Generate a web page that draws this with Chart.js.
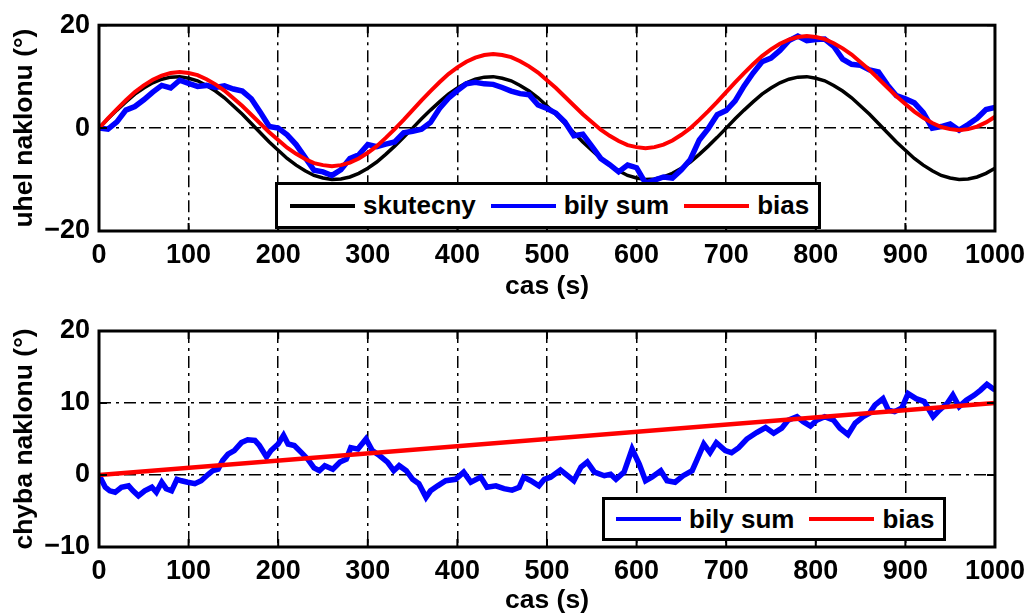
<!DOCTYPE html>
<html>
<head>
<meta charset="utf-8">
<script src="https://cdn.jsdelivr.net/npm/chart.js@4/dist/chart.umd.min.js"></script>
<style>
  body { margin: 0; background: #fff; }
  #wrap { position: relative; width: 1033px; height: 614px; overflow: hidden; }
  canvas { position: absolute; left: 0; }
  .legend { position: absolute; background: #fff; border: 3px solid #000; box-sizing: border-box; white-space: nowrap;
            display: flex; align-items: center; font: bold 26px "Liberation Sans", Arial, sans-serif; color: #000; }
  .legend .ln { display: inline-block; flex: none; width: 65px; height: 4px; margin-right: 8px; }
  .legend .tx { flex: none; margin-right: 15px; }
</style>
</head>
<body>
<div id="wrap">
  <canvas id="horni" style="top:0"></canvas>
  <canvas id="dolni" style="top:300px"></canvas>
  <div class="legend" style="left:275px; top:182px; width:546px; height:47px; padding-left:12px;">
    <span class="ln" style="background:#000"></span><span class="tx">skutecny</span>
    <span class="ln" style="background:#0000ff"></span><span class="tx">bily sum</span>
    <span class="ln" style="background:#ff0000"></span><span class="tx">bias</span>
  </div>
  <div class="legend" style="left:602px; top:497px; width:344px; height:44px; padding-left:11px;">
    <span class="ln" style="background:#0000ff"></span><span class="tx">bily sum</span>
    <span class="ln" style="background:#ff0000"></span><span class="tx">bias</span>
  </div>
</div>
<script>
// horni graf - krok 10 s
var cas = [0,10,20,30,40,50,60,70,80,90,100,110,120,130,140,150,160,170,180,190,
  200,210,220,230,240,250,260,270,280,290,300,310,320,330,340,350,360,370,380,390,
  400,410,420,430,440,450,460,470,480,490,500,510,520,530,540,550,560,570,580,590,
  600,610,620,630,640,650,660,670,680,690,700,710,720,730,740,750,760,770,780,790,
  800,810,820,830,840,850,860,870,880,890,900,910,920,930,940,950,960,970,980,990,1000];

var skutecny = [0,1.8,3.5,5.1,6.6,7.8,8.8,9.5,9.9,10.0,9.7,9.2,8.3,7.2,5.9,4.3,2.7,0.9,-0.9,-2.7,
  -4.3,-5.9,-7.2,-8.3,-9.2,-9.7,-10.0,-9.9,-9.5,-8.8,-7.8,-6.6,-5.1,-3.5,-1.8,0,1.8,3.5,5.1,6.6,
  7.8,8.8,9.5,9.9,10.0,9.7,9.2,8.3,7.2,5.9,4.3,2.7,0.9,-0.9,-2.7,-4.3,-5.9,-7.2,-8.3,-9.2,
  -9.7,-10.0,-9.9,-9.5,-8.8,-7.8,-6.6,-5.1,-3.5,-1.8,0,1.8,3.5,5.1,6.6,7.8,8.8,9.5,9.9,10.0,
  9.7,9.2,8.3,7.2,5.9,4.3,2.7,0.9,-0.9,-2.7,-4.3,-5.9,-7.2,-8.3,-9.2,-9.7,-10.0,-9.9,-9.5,-8.8,-7.8];

var bilySum = [0,-0.2,1.2,3.5,4.2,5.5,7.0,8.3,7.8,9.3,8.7,8.1,8.3,7.9,8.2,7.6,7.2,5.7,3.1,0.3,
  0.0,-1.3,-3.2,-5.7,-8.2,-8.5,-9.2,-8.1,-5.9,-5.2,-3.2,-3.6,-3.1,-2.7,-0.9,-0.6,-0.2,1.1,3.8,5.8,
  7.3,8.6,8.9,8.6,8.5,7.9,7.2,6.7,6.5,4.5,3.8,2.9,1.2,-1.5,-1.2,-3.5,-5.9,-7.1,-8.5,-7.2,
  -7.7,-10.7,-10.1,-9.5,-9.7,-8.1,-6.1,-2.3,-0.1,2.6,3.4,5.3,8.2,10.7,12.9,13.6,15.1,17.0,17.9,17.0,
  17.2,17.3,15.9,13.4,12.4,12.2,11.3,10.9,8.4,6.3,5.7,4.9,3.0,0.0,0.3,0.8,-0.4,0.7,1.9,3.6,4.0];

var bias = [0,1.9,3.7,5.4,7.0,8.3,9.4,10.2,10.7,10.9,10.7,10.3,9.5,8.5,7.3,5.8,4.3,2.6,0.9,-0.8,
  -2.3,-3.8,-5.0,-6.0,-6.8,-7.2,-7.4,-7.2,-6.7,-5.9,-4.8,-3.5,-1.9,-0.2,1.6,3.5,5.4,7.2,8.9,10.5,
  11.8,12.9,13.7,14.2,14.4,14.2,13.8,13.0,12.0,10.8,9.3,7.8,6.1,4.4,2.7,1.2,-0.3,-1.5,-2.5,-3.3,
  -3.7,-3.9,-3.7,-3.2,-2.4,-1.3,0,1.6,3.3,5.1,7.0,8.9,10.7,12.4,14.0,15.3,16.4,17.2,17.7,17.9,
  17.7,17.3,16.5,15.5,14.3,12.8,11.3,9.6,7.9,6.2,4.7,3.2,2.0,1.0,0.2,-0.2,-0.4,-0.2,0.3,1.1,2.2];

// dolni graf - chyba naklonu
var chybaCas = [0,7,12,18,25,33,38,44,51,59,
  64,70,75,81,87,92,99,107,114,122,
  127,133,138,144,151,159,166,174,179,187,
  192,200,206,211,218,226,233,240,246,252,
  261,269,276,281,289,298,305,313,322,329,
  335,343,350,357,365,370,378,387,398,407,
  415,426,433,443,452,461,469,474,482,491,
  497,504,515,523,530,538,545,553,564,571,
  577,586,595,603,610,617,627,634,643,652,
  662,667,675,682,689,699,706,714,723,734,
  744,753,762,769,779,786,794,801,810,820,
  827,836,844,853,860,866,875,881,888,896,
  903,912,921,931,938,947,953,960,968,977,
  984,991,1000];

var chybaSum = [0,-1.7,-2.2,-2.4,-1.7,-1.5,-2.2,-2.9,-2.2,-1.7,
  -2.4,-1.0,-1.9,-2.2,-0.6,-0.8,-1.0,-1.2,-0.8,0.1,
  0.6,0.8,2.0,2.9,3.4,4.5,4.9,4.8,4.1,2.5,
  3.4,4.3,5.5,4.3,4.1,3.1,2.2,1.0,0.6,1.3,
  0.8,1.8,2.2,3.8,3.6,5.0,3.4,2.7,1.8,0.6,
  1.3,0.6,-0.6,-1.2,-3.1,-2.2,-1.5,-0.8,-0.6,0.4,
  -1.0,-0.3,-1.7,-1.5,-1.9,-2.1,-1.7,-0.3,-0.8,-1.5,
  -0.6,-0.3,0.7,-0.1,-0.8,1.1,1.8,0.4,-0.1,0.1,
  -0.6,0.4,3.6,1.5,-0.8,-0.3,0.6,-0.8,-1.0,-0.1,
  0.6,2.0,4.3,3.1,4.5,3.4,3.1,3.8,5.0,5.9,
  6.6,5.8,6.5,7.6,8.1,7.4,6.8,7.6,8.1,7.6,
  6.5,5.6,7.2,8.1,8.6,9.7,10.6,9.0,8.8,9.3,
  11.3,10.6,10.2,8.1,9.0,10.0,11.1,9.5,10.4,11.1,
  11.8,12.6,11.8];

var biasCas = [0, 1000];
var chybaBias = [0, 10];

var xTicks = [0,100,200,300,400,500,600,700,800,900,1000];

function body(xs, ys) {
  var out = [];
  for (var i = 0; i < xs.length; i++) out.push({x: xs[i], y: ys[i]});
  return out;
}

var pismo = 'Liberation Sans, Arial, sans-serif';

// ramecek a vnitrni carky jako v matlabu
var ramecek = {
  id: 'ramecek',
  afterDraw: function(chart) {
    var ctx = chart.ctx, a = chart.chartArea;
    var sx = chart.scales.x, sy = chart.scales.y;
    ctx.save();
    ctx.strokeStyle = '#000';
    ctx.lineWidth = 2;
    ctx.beginPath();
    sx.ticks.forEach(function(t) {
      var px = sx.getPixelForValue(t.value);
      ctx.moveTo(px, a.bottom); ctx.lineTo(px, a.bottom - 8);
      ctx.moveTo(px, a.top); ctx.lineTo(px, a.top + 8);
    });
    sy.ticks.forEach(function(t) {
      var py = sy.getPixelForValue(t.value);
      ctx.moveTo(a.left, py); ctx.lineTo(a.left + 8, py);
      ctx.moveTo(a.right, py); ctx.lineTo(a.right - 8, py);
    });
    ctx.stroke();
    ctx.lineWidth = 3;
    ctx.strokeRect(a.left, a.top, a.right - a.left, a.bottom - a.top);
    ctx.restore();
  }
};

function options(ymin, ymax, krok, ynazev, padTop, xVyska) {
  return {
    responsive: false,
    animation: false,
    layout: { padding: { top: padTop, right: 35, left: 0, bottom: 0 } },
    plugins: { legend: { display: false }, tooltip: { enabled: false } },
    elements: { point: { radius: 0 }, line: { tension: 0 } },
    scales: {
      x: {
        type: 'linear', min: 0, max: 1000,
        afterBuildTicks: function(s) { s.ticks = xTicks.map(function(v) { return {value: v}; }); },
        afterFit: function(s) { s.height = xVyska; },
        grid: { color: '#000', lineWidth: 1.5, drawTicks: false },
        border: { display: false, dash: [12, 5, 3, 5] },
        ticks: { color: '#000', padding: 8, maxRotation: 0, font: { family: pismo, size: 27, weight: 'bold' },
                 callback: function(v) { return '' + v; } },
        title: { display: true, text: 'cas (s)', color: '#000', padding: { top: 0, bottom: 0 },
                 font: { family: pismo, size: 26.5, weight: 'bold', lineHeight: 1 } }
      },
      y: {
        min: ymin, max: ymax,
        afterFit: function(s) { s.width = 99; },
        grid: { color: '#000', lineWidth: 1.5, drawTicks: false },
        border: { display: false, dash: [12, 5, 3, 5] },
        ticks: { stepSize: krok, color: '#000', padding: 9,
                 font: { family: pismo, size: 27, weight: 'bold' },
                 callback: function(v) { return v < 0 ? '\u2212' + Math.abs(v) : '' + v; } },
        title: { display: true, text: ynazev, color: '#000', padding: { top: 11, bottom: 0 },
                 font: { family: pismo, size: 26.5, weight: 'bold', lineHeight: 1 } }
      }
    }
  };
}

var c1 = document.getElementById('horni');
c1.width = 1033; c1.height = 300;
new Chart(c1, {
  type: 'line',
  data: {
    datasets: [
      { label: 'skutecny', data: body(cas, skutecny), borderColor: '#000000', borderWidth: 3.5, order: 3 },
      { label: 'bily sum', data: body(cas, bilySum), borderColor: '#0000ff', borderWidth: 5.5, order: 2 },
      { label: 'bias', data: body(cas, bias), borderColor: '#ff0000', borderWidth: 4, order: 1 }
    ]
  },
  options: options(-20, 20, 20, 'uhel naklonu (\u00b0)', 17, 69),
  plugins: [ramecek]
});

var c2 = document.getElementById('dolni');
c2.width = 1033; c2.height = 314;
new Chart(c2, {
  type: 'line',
  data: {
    datasets: [
      { label: 'bily sum', data: body(chybaCas, chybaSum), borderColor: '#0000ff', borderWidth: 5.5, order: 2 },
      { label: 'bias', data: body(biasCas, chybaBias), borderColor: '#ff0000', borderWidth: 4.5, order: 1 }
    ]
  },
  options: options(-10, 20, 10, 'chyba naklonu (\u00b0)', 31, 67),
  plugins: [ramecek]
});
</script>
</body>
</html>
